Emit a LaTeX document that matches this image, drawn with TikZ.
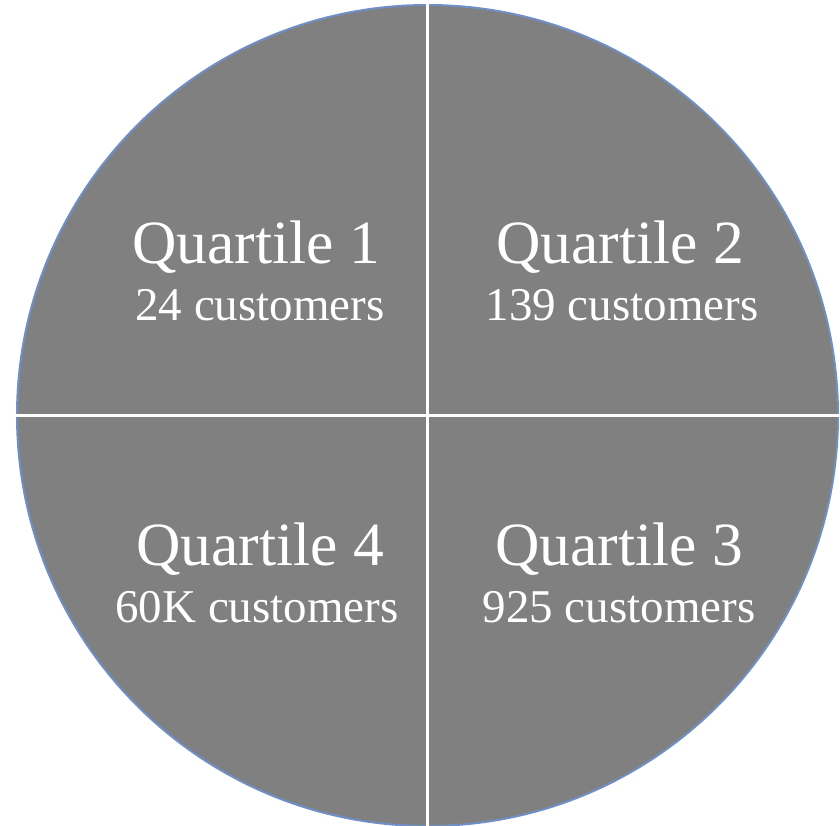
\documentclass[tikz,border=0pt]{standalone}
\usepackage{fontspec}
\setmainfont{Liberation Serif}
\usepackage{tikz}

\definecolor{quartfill}{HTML}{808080}
\definecolor{quartrim}{HTML}{6F8FC6}

\tikzset{
	qtitle/.style={anchor=base, text=white, inner sep=0pt, font=\fontsize{61.5}{61.5}\selectfont},
	qcount/.style={anchor=base, text=white, inner sep=0pt, font=\fontsize{47}{47}\selectfont}
}

\begin{document}
\begin{tikzpicture}[x=1pt,y=-1pt]
		\useasboundingbox (0,0) rectangle (840,826);
		\coordinate (c) at (427.5,415.5);
		\filldraw[fill=quartfill, draw=quartrim, line width=2pt] (c) circle (410.5);
		\draw[white, line width=3pt] (427.5,0) -- (427.5,826);
		\draw[white, line width=3pt] (0,415.5) -- (840,415.5);
		\node[qtitle] (q1) at (256,263) {Quartile 1};
		\node[qcount] (n1) at (260,320) {24 customers};
		\node[qtitle] (q2) at (620,263) {Quartile 2};
		\node[qcount] (n2) at (622,320) {139 customers};
		\node[qtitle] (q4) at (260,565) {Quartile 4};
		\node[qcount] (n4) at (257,622) {60K customers};
		\node[qtitle] (q3) at (619,565) {Quartile 3};
		\node[qcount] (n3) at (619,622) {925 customers};
	\end{tikzpicture}
\end{document}
